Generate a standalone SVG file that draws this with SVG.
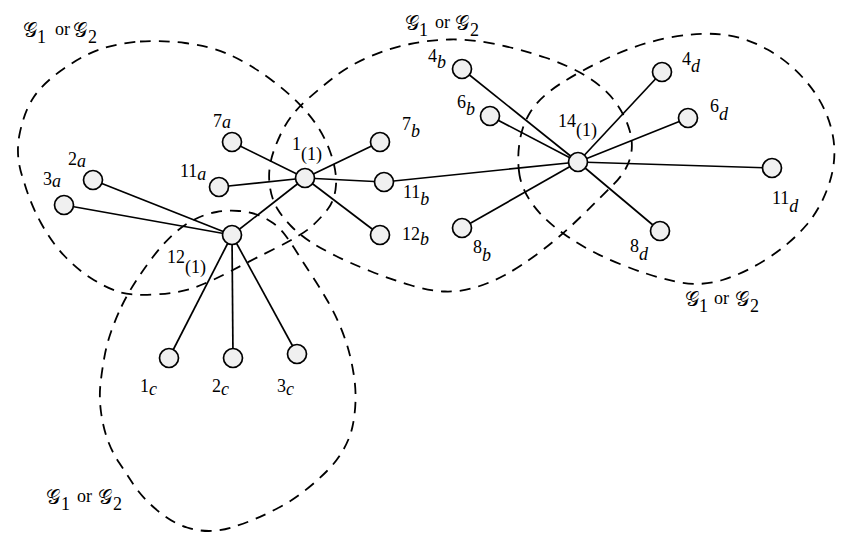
<svg xmlns="http://www.w3.org/2000/svg" width="855" height="547" viewBox="0 0 855 547">
<style>
.reg{fill:none;stroke:#000;stroke-width:1.8;stroke-dasharray:11 8}
.e{stroke:#000;stroke-width:1.7}
.n{fill:#f0f0f0;stroke:#000;stroke-width:1.7}
text{font-family:"Liberation Serif","DejaVu Serif",serif;font-size:18px;fill:#000}
.i{font-style:italic}
.g{font-family:"DejaVu Serif","DejaVu Sans","Noto Sans",serif;font-size:20px}
</style>
<rect width="855" height="547" fill="#fff"/>
<g id="regions">
<path id="regionA" class="reg" d="M140,41.5 Q160,40 185,43 Q210,46 230,55 Q250,64 271.5,80 Q293,96 307.5,113 Q322,130 329.5,150 Q337,170 336,185 Q335,200 327.5,209.5 Q320,219 311,227 Q302,235 276,248 Q250,261 231,271 Q212,281 196,287 Q180,293 155,294.5 Q130,296 117.5,291.5 Q105,287 91.5,278.5 Q78,270 65,256.5 Q52,243 41,223 Q30,203 23.5,180 Q15,157 19.5,134.5 Q24,112 33.5,97.5 Q43,83 64,68.5 Q85,54 102.5,48.5 Q120,43 140,41.5 Z"/>
<path id="regionB" class="reg" d="M310,241.5 Q300,235 291.5,226.5 Q283,218 277.5,209 Q272,200 270,187.5 Q268,175 270.5,162.5 Q273,150 281.5,132.5 Q290,115 305,101.5 Q320,88 335,76.5 Q350,65 370,56.5 Q390,48 410,44 Q430,40 450,39.5 Q470,39 495,44 Q520,49 545,57.5 Q570,66 587.5,77 Q605,88 615,101.5 Q625,115 629.5,130 Q634,145 630,158.5 Q626,172 613,185 Q600,198 580,217.5 Q560,237 540,252 Q520,267 505,275 Q490,283 475,287.5 Q460,292 445,291.5 Q430,291 410,285 Q390,279 370,271 Q350,263 335,255.5 Q320,248 310,241.5 Z"/>
<path id="regionD" class="reg" d="M519.5,175 Q517,160 519.5,142.5 Q522,125 531,111 Q540,97 560,84 Q580,71 610,57 Q640,43 670,37.5 Q700,32 722.5,34.5 Q745,37 767.5,49.5 Q790,62 807.5,83 Q825,104 831.5,129.5 Q838,155 830,181 Q822,207 806,225.5 Q790,244 767.5,258.5 Q745,273 722.5,280 Q700,287 675,281.5 Q650,276 620,264 Q590,252 567.5,236.5 Q545,221 533.5,205.5 Q522,190 519.5,175 Z"/>
<path id="regionC" class="reg" d="M121.5,306.5 Q127,295 135,282.5 Q143,270 152.5,257.5 Q162,245 172,235.5 Q182,226 193.5,220 Q205,214 216.5,212 Q228,210 239,211 Q250,212 258,215 Q266,218 273,223 Q280,228 285.5,235.5 Q291,243 297,252.5 Q303,262 311.5,275 Q320,288 327,300 Q334,312 339,323.5 Q344,335 347.5,346.5 Q351,358 353.5,373 Q356,388 355.5,401.5 Q355,415 352.5,426.5 Q350,438 343.5,449.5 Q337,461 327,471 Q317,481 305,490.5 Q293,500 280,507 Q267,514 255,519 Q243,524 231.5,527.5 Q220,531 209,531 Q198,531 187,527.5 Q176,524 166,517 Q156,510 147.5,501.5 Q139,493 132.5,483 Q126,473 119,462.5 Q112,452 107.5,439.5 Q103,427 101,412 Q99,397 100.5,383.5 Q102,370 104.5,356.5 Q107,343 111.5,330.5 Q116,318 121.5,306.5 Z"/>
</g>
<g id="connectors">
<line class="e" x1="305" y1="178" x2="232" y2="142"/>
<line class="e" x1="305" y1="178" x2="219" y2="187"/>
<line class="e" x1="305" y1="178" x2="232" y2="235"/>
<line class="e" x1="305" y1="178" x2="380" y2="142"/>
<line class="e" x1="305" y1="178" x2="384" y2="182"/>
<line class="e" x1="305" y1="178" x2="380" y2="235"/>
<line class="e" x1="232" y1="235" x2="93" y2="180"/>
<line class="e" x1="232" y1="235" x2="64" y2="205"/>
<line class="e" x1="232" y1="235" x2="169" y2="358"/>
<line class="e" x1="232" y1="235" x2="233" y2="358"/>
<line class="e" x1="232" y1="235" x2="297" y2="354"/>
<line class="e" x1="384" y1="182" x2="578" y2="162"/>
<line class="e" x1="578" y1="162" x2="462" y2="69"/>
<line class="e" x1="578" y1="162" x2="490" y2="116"/>
<line class="e" x1="578" y1="162" x2="462" y2="228"/>
<line class="e" x1="578" y1="162" x2="662" y2="72"/>
<line class="e" x1="578" y1="162" x2="688" y2="118"/>
<line class="e" x1="578" y1="162" x2="772" y2="168"/>
<line class="e" x1="578" y1="162" x2="660" y2="231"/>
</g>
<g id="n1"><circle class="n" cx="305" cy="178" r="9.5"/><text x="292" y="150">1<tspan dy="10">(1)</tspan></text></g>
<g id="n12"><circle class="n" cx="232" cy="235" r="9.5"/><text x="167" y="263">12<tspan dy="10">(1)</tspan></text></g>
<g id="n14"><circle class="n" cx="578" cy="162" r="9.5"/><text x="558" y="127">14<tspan dy="9">(1)</tspan></text></g>
<g id="n7a"><circle class="n" cx="232" cy="142" r="9.5"/><text x="213" y="127">7<tspan class="i" dy="1">a</tspan></text></g>
<g id="n11a"><circle class="n" cx="219" cy="187" r="9.5"/><text x="180" y="177">11<tspan class="i" dy="3">a</tspan></text></g>
<g id="n2a"><circle class="n" cx="93" cy="180" r="9.5"/><text x="68" y="165">2<tspan class="i" dy="2">a</tspan></text></g>
<g id="n3a"><circle class="n" cx="64" cy="205" r="9.5"/><text x="43" y="185">3<tspan class="i" dy="2">a</tspan></text></g>
<g id="n7b"><circle class="n" cx="380" cy="142" r="9.5"/><text x="402" y="130">7<tspan class="i" dy="7">b</tspan></text></g>
<g id="n11b"><circle class="n" cx="384" cy="182" r="9.5"/><text x="403" y="198">11<tspan class="i" dy="7">b</tspan></text></g>
<g id="n12b"><circle class="n" cx="380" cy="235" r="9.5"/><text x="402" y="240">12<tspan class="i" dy="5">b</tspan></text></g>
<g id="n4b"><circle class="n" cx="462" cy="69" r="9.5"/><text x="428" y="62">4<tspan class="i" dy="6">b</tspan></text></g>
<g id="n6b"><circle class="n" cx="490" cy="116" r="9.5"/><text x="457" y="108">6<tspan class="i" dy="7">b</tspan></text></g>
<g id="n8b"><circle class="n" cx="462" cy="228" r="9.5"/><text x="473" y="253">8<tspan class="i" dy="8">b</tspan></text></g>
<g id="n4d"><circle class="n" cx="662" cy="72" r="9.5"/><text x="682" y="65">4<tspan class="i" dy="7">d</tspan></text></g>
<g id="n6d"><circle class="n" cx="688" cy="118" r="9.5"/><text x="710" y="112">6<tspan class="i" dy="8">d</tspan></text></g>
<g id="n11d"><circle class="n" cx="772" cy="168" r="9.5"/><text x="772" y="204">11<tspan class="i" dy="8">d</tspan></text></g>
<g id="n8d"><circle class="n" cx="660" cy="231" r="9.5"/><text x="630" y="252">8<tspan class="i" dy="8">d</tspan></text></g>
<g id="n1c"><circle class="n" cx="169" cy="358" r="9.5"/><text x="140" y="392">1<tspan class="i" dy="3">c</tspan></text></g>
<g id="n2c"><circle class="n" cx="233" cy="358" r="9.5"/><text x="212" y="392">2<tspan class="i" dy="3">c</tspan></text></g>
<g id="n3c"><circle class="n" cx="297" cy="354" r="9.5"/><text x="277" y="392">3<tspan class="i" dy="3">c</tspan></text></g>
<g id="labels">
<text><tspan class="g" x="23" y="37">𝒢</tspan><tspan x="37" y="43">1</tspan><tspan x="55" y="35">or</tspan><tspan class="g" x="73" y="37">𝒢</tspan><tspan x="88" y="43">2</tspan></text>
<text><tspan class="g" x="405" y="30">𝒢</tspan><tspan x="419" y="36">1</tspan><tspan x="435" y="28">or</tspan><tspan class="g" x="455" y="30">𝒢</tspan><tspan x="470" y="36">2</tspan></text>
<text><tspan class="g" x="685" y="306">𝒢</tspan><tspan x="699" y="312">1</tspan><tspan x="714" y="304">or</tspan><tspan class="g" x="735" y="306">𝒢</tspan><tspan x="750" y="312">2</tspan></text>
<text><tspan class="g" x="46" y="504">𝒢</tspan><tspan x="61" y="510">1</tspan><tspan x="77" y="502">or</tspan><tspan class="g" x="98" y="504">𝒢</tspan><tspan x="113" y="510">2</tspan></text>
</g>
</svg>
